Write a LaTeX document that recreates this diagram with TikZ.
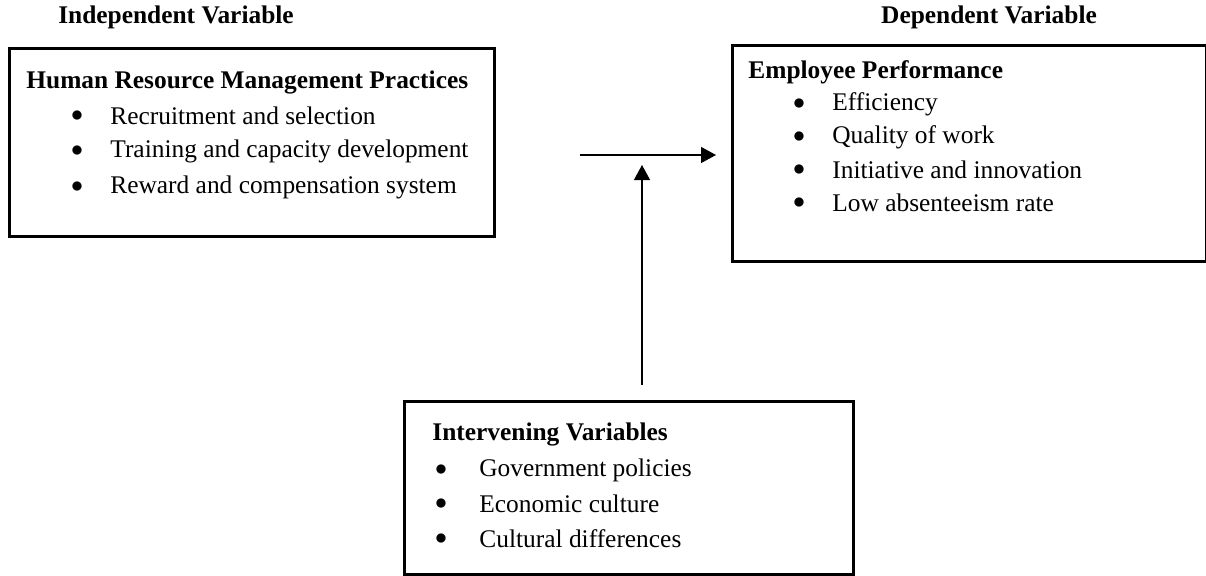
\documentclass[tikz,border=0pt]{standalone}
\usepackage{fontspec}
\setmainfont{Liberation Serif}
\usetikzlibrary{arrows.meta, positioning}

\tikzset{
  frame/.style={draw, line width=1.3pt, anchor=north west, inner sep=0pt},
  head/.style={font=\fontsize{12.7}{15}\selectfont\bfseries, anchor=west, inner sep=0pt},
  caption/.style={font=\fontsize{12.7}{15}\selectfont\bfseries, inner sep=0pt},
  item/.style={anchor=west, inner sep=0pt},
  dot/.style={anchor=center, inner sep=0pt},
}

\begin{document}
\begin{tikzpicture}[x=0.5pt, y=-0.5pt, >={Triangle[length=7.5pt,width=8pt]},
    font=\fontsize{12.7}{15}\selectfont]
  \useasboundingbox (0,0) rectangle (1206,575);
  % the three boxes
  \node[frame, minimum width=242.5pt, minimum height=94pt] (hrm) at (8,47) {};
  \node[frame, minimum width=237pt, minimum height=108pt] (perf) at (731,44) {};
  \node[frame, minimum width=224.5pt, minimum height=86.5pt] (interv) at (403,400) {};

  % captions above
  \node[caption] (indep) at (176,17) {Independent Variable};
  \node[caption] (dep) at (989,17) {Dependent Variable};

  % independent variable
  \node[head] (hrmtitle) at (26,82) {Human Resource Management Practices};
  \node[dot] (hrmdotA) at (77,116) {$\bullet$};
  \node[dot] (hrmdotB) at (77,151) {$\bullet$};
  \node[dot] (hrmdotC) at (77,187) {$\bullet$};
  \node[item] (hrmA) at (110,116) {Recruitment and selection};
  \node[item] (hrmB) at (110,151) {Training and capacity development};
  \node[item] (hrmC) at (110,187) {Reward and compensation system};

  % dependent variable
  \node[head] (perftitle) at (748,72) {Employee Performance};
  \node[dot] (perfdotA) at (799,104) {$\bullet$};
  \node[dot] (perfdotB) at (799,137) {$\bullet$};
  \node[dot] (perfdotC) at (799,170) {$\bullet$};
  \node[dot] (perfdotD) at (799,203) {$\bullet$};
  \node[item] (perfA) at (832,104) {Efficiency};
  \node[item] (perfB) at (832,137) {Quality of work};
  \node[item] (perfC) at (832,170) {Initiative and innovation};
  \node[item] (perfD) at (832,203) {Low absenteeism rate};

  % intervening variables
  \node[head] (intervtitle) at (432,434) {Intervening Variables};
  \node[dot] (intervdotA) at (441,470) {$\bullet$};
  \node[dot] (intervdotB) at (441,504) {$\bullet$};
  \node[dot] (intervdotC) at (441,539) {$\bullet$};
  \node[item] (intervA) at (479,470) {Government policies};
  \node[item] (intervB) at (479,504) {Economic culture};
  \node[item] (intervC) at (479,539) {Cultural differences};

  % arrows
  \coordinate (cross) at (642,155);
  \draw [line width=0.6pt, ->, shorten <=42pt, shorten >=7.5pt] (hrm.east |- cross) -- (perf.west |- cross);
  \draw [line width=0.6pt, ->, shorten <=7.5pt, shorten >=5pt] (interv.north -| cross) -- (cross);
\end{tikzpicture}
\end{document}
